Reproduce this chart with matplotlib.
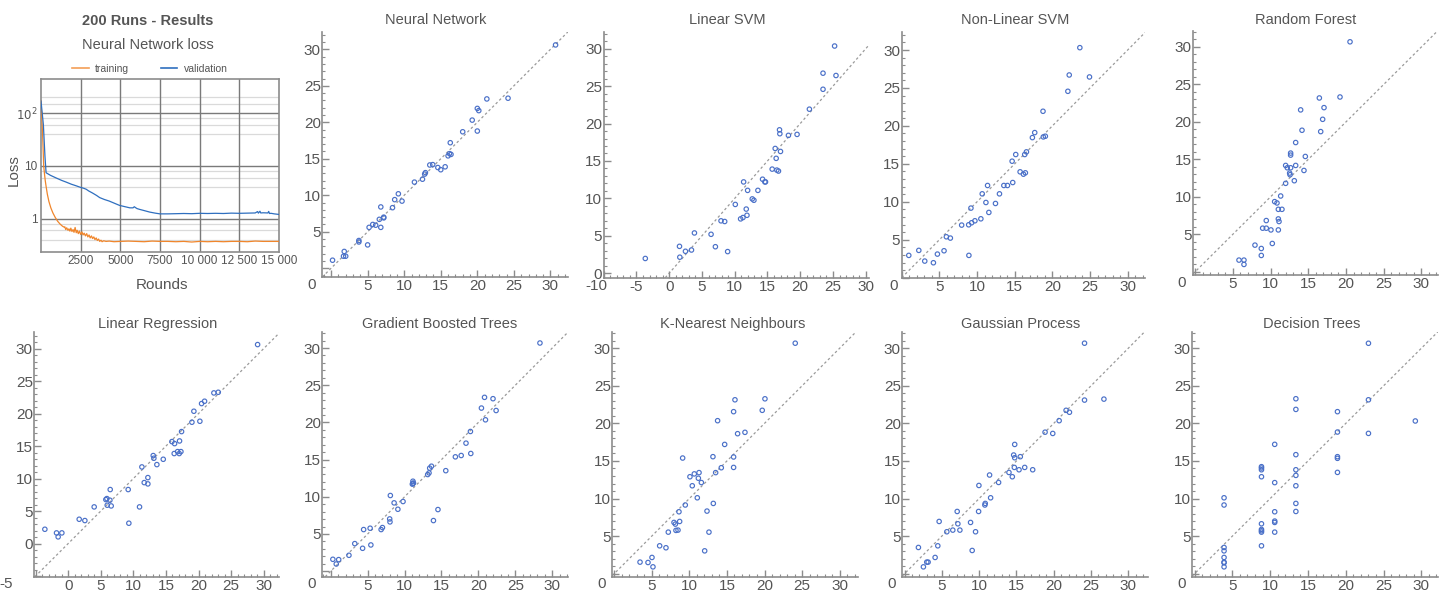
import matplotlib
matplotlib.use("Agg")
import matplotlib.pyplot as plt
import matplotlib.lines as mlines
from matplotlib.ticker import MultipleLocator, NullLocator

plt.rcParams['font.family'] = ['Liberation Sans', 'DejaVu Sans']

#%% Data
loss_rounds_train = [0, 100, 170, 220, 270, 320, 400, 500, 620, 750, 900, 1050, 1200, 1350, 1450, 1500,
                     1560, 1620, 1700, 1760, 1820, 1880, 1950, 2020, 2080, 2150, 2220, 2280, 2350, 2420,
                     2500, 2580, 2650, 2720, 2800, 2880, 2950, 3030, 3100, 3180, 3250, 3330, 3400, 3480,
                     3550, 3630, 3700, 3780, 3850, 3950, 4100, 4300, 4600, 5000, 5500, 6000, 6500, 7000,
                     7500, 8000, 8500, 9000, 9500, 10000, 10500, 11000, 11500, 12000, 12500, 13000,
                     13500, 14000, 14500, 15000]
loss_train = [169, 40, 10, 7.0, 5.2, 4.1, 2.9, 2.1, 1.6, 1.28, 1.05, 0.89, 0.79, 0.72, 0.69, 0.7,
              0.62, 0.67, 0.6, 0.64, 0.58, 0.66, 0.57, 0.62, 0.55, 0.68, 0.54, 0.6, 0.52, 0.58,
              0.5, 0.56, 0.49, 0.53, 0.47, 0.52, 0.45, 0.49, 0.43, 0.47, 0.42, 0.45, 0.4, 0.43,
              0.385, 0.41, 0.37, 0.39, 0.365, 0.38, 0.37, 0.375, 0.365, 0.37, 0.375, 0.37, 0.365, 0.375,
              0.37, 0.37, 0.365, 0.37, 0.36, 0.37, 0.365, 0.37, 0.365, 0.37, 0.37, 0.365,
              0.375, 0.37, 0.37, 0.37]
loss_rounds_val = [0, 150, 250, 320, 600, 950, 1300, 1600, 1900, 2200, 2500, 2700, 2850, 3000, 3250,
                   3500, 3700, 4000, 4300, 4600, 4950, 5300, 5600, 5800, 5880, 5950, 6050, 6200, 6500,
                   6850, 7200, 7500, 8000, 8500, 9000, 9500, 10000, 10500, 11000, 11500, 12000, 12500,
                   13000, 13500, 13650, 13700, 13800, 13850, 14000, 14300, 14350, 14400, 14500, 14700, 15000]
loss_val = [169, 60, 15, 7.4, 6.6, 5.9, 5.3, 4.9, 4.5, 4.2, 3.9, 3.75, 3.6, 3.35, 3.05,
            2.75, 2.5, 2.3, 2.15, 1.97, 1.78, 1.68, 1.6, 1.6, 1.68, 1.62, 1.55, 1.5, 1.42,
            1.33, 1.27, 1.23, 1.23, 1.24, 1.25, 1.24, 1.26, 1.25, 1.26, 1.25, 1.27, 1.26,
            1.27, 1.28, 1.36, 1.27, 1.38, 1.28, 1.29, 1.28, 1.37, 1.25, 1.26, 1.23, 1.2]

nn_pred = [0.2, 1.7, 1.8, 2.0, 3.8, 3.8, 5.0, 5.2, 5.7, 6.1, 6.6, 6.8, 6.8, 7.2, 7.2, 8.4, 8.7, 9.2, 9.7, 11.4,
           12.5, 12.8, 12.9, 13.5, 13.9, 14.6, 15.0, 15.6, 16.0, 16.2, 16.3, 16.4, 18.0, 19.3, 20.0, 20.0,
           20.2, 21.3, 24.2, 30.7]
nn_true = [1.1, 1.65, 2.3, 1.65, 3.8, 3.6, 3.2, 5.6, 6.0, 5.9, 6.7, 8.4, 5.6, 7.0, 6.9, 8.3, 9.4, 10.2, 9.2, 11.8,
           12.2, 12.9, 13.1, 14.15, 14.2, 13.8, 13.5, 13.9, 15.4, 15.7, 17.2, 15.6, 18.7, 20.3, 21.9, 18.8,
           21.6, 23.2, 23.3, 30.6]

lsvm_pred = [-3.65, 1.57, 1.62, 2.48, 3.4, 3.85, 6.39, 7.05, 7.91, 8.47, 8.92, 10.09, 10.9, 11.26, 11.36,
             11.76, 11.87, 11.97, 12.68, 12.93, 13.54, 14.25, 14.6, 14.7, 15.72, 16.18, 16.33, 16.43, 16.68,
             16.84, 16.89, 16.99, 18.2, 19.52, 21.4, 23.48, 23.48, 25.25, 25.46]
lsvm_true = [1.97, 3.59, 2.14, 2.93, 3.1, 5.38, 5.2, 3.54, 7.0, 6.91, 2.89, 9.19, 7.26, 7.44, 12.2,
             8.57, 7.74, 11.07, 9.93, 9.75, 11.07, 12.56, 12.2, 12.2, 13.91, 16.67, 15.35, 13.78, 13.65,
             19.16, 18.64, 16.27, 18.42, 18.55, 21.92, 26.73, 24.58, 30.36, 26.42]

nlsvm_pred = [0.94, 2.27, 3.06, 4.21, 4.74, 5.62, 5.93, 6.46, 7.96, 8.89, 8.92, 9.28, 9.19, 9.72, 10.51,
              10.69, 11.18, 11.4, 11.57, 12.45, 12.98, 13.56, 14.04, 14.66, 14.74, 15.14, 15.72, 16.16,
              16.33, 16.42, 16.56, 17.35, 17.66, 18.76, 18.8, 19.07, 22.06, 22.24, 23.65, 24.93]
nlsvm_true = [2.94, 3.6, 2.19, 1.97, 3.11, 3.55, 5.39, 5.22, 6.93, 6.97, 2.94, 7.24, 9.17, 7.5, 7.76,
              11.05, 9.91, 12.15, 8.6, 9.78, 11.05, 12.15, 12.15, 15.35, 12.54, 16.23, 13.95, 13.64,
              16.23, 13.82, 16.58, 18.46, 19.12, 21.93, 18.55, 18.64, 24.56, 26.71, 30.31, 26.45]

rf_pred = [5.8, 6.46, 6.46, 7.92, 8.76, 8.76, 8.94, 9.42, 9.42, 10.04, 10.22, 10.53, 10.84, 11.02, 11.02,
           11.11, 11.02, 11.33, 11.5, 11.99, 11.99, 12.21, 12.52, 12.57, 12.65, 12.65, 12.65, 13.14, 13.32,
           13.32, 13.98, 14.16, 14.42, 14.6, 16.46, 16.64, 16.9, 17.08, 19.2, 20.53]
rf_true = [1.54, 1.54, 0.96, 3.54, 3.09, 2.16, 5.8, 5.8, 6.82, 5.57, 3.76, 9.35, 9.17, 8.32, 7.04,
           6.69, 5.57, 10.1, 8.32, 14.18, 11.79, 13.87, 13.16, 12.94, 13.87, 15.83, 15.56, 12.14, 14.18,
           17.24, 21.6, 18.88, 13.51, 15.38, 23.19, 18.7, 20.34, 21.9, 23.32, 30.69]

lr_pred = [-3.58, -1.79, -1.54, -0.97, 1.69, 2.56, 3.99, 5.78, 5.94, 5.99, 6.4, 6.45, 6.6, 9.21, 9.31,
           10.95, 11.31, 11.67, 12.23, 12.23, 13.05, 13.15, 13.61, 14.59, 15.92, 16.27, 16.33, 16.79,
           17.04, 17.09, 17.3, 17.4, 18.99, 19.29, 20.21, 20.47, 20.93, 22.36, 23.03, 29.07]
lr_true = [2.2, 1.64, 1.03, 1.64, 3.74, 3.54, 5.64, 6.77, 6.92, 5.9, 6.67, 8.31, 5.79, 8.31, 3.13,
           5.64, 11.79, 9.38, 10.15, 9.18, 13.54, 13.13, 12.15, 12.97, 15.69, 13.85, 15.38, 14.15,
           13.85, 15.79, 14.15, 17.23, 18.67, 20.36, 18.82, 21.54, 21.9, 23.18, 23.28, 30.62]

gbt_pred = [0.28, 0.74, 1.07, 2.46, 3.25, 4.31, 4.45, 5.33, 5.43, 6.82, 7.0, 7.98, 8.02, 8.07, 8.58,
            9.09, 9.79, 11.13, 11.13, 11.05, 11.2, 13.13, 13.31, 13.4, 13.64, 13.91, 14.52, 15.58, 16.88,
            17.67, 18.32, 18.92, 18.97, 20.41, 20.83, 20.96, 21.98, 22.4, 28.34]
gbt_true = [1.59, 0.96, 1.55, 2.13, 3.7, 3.07, 5.59, 5.77, 3.52, 5.59, 5.86, 7.02, 6.62, 10.17, 9.18,
            8.32, 9.36, 12.09, 11.78, 11.7, 11.85, 12.99, 13.21, 13.85, 14.11, 6.8, 8.28, 13.51, 15.37,
            15.55, 17.21, 18.78, 15.82, 21.93, 23.37, 20.35, 23.19, 21.6, 30.68]

knn_pred = [3.44, 4.5, 5.03, 5.16, 6.05, 6.89, 7.2, 7.96, 8.14, 8.22, 8.49, 8.62, 8.71, 9.11, 9.46,
            10.08, 10.39, 10.66, 11.06, 11.2, 11.29, 11.6, 12.04, 12.35, 12.61, 13.19, 13.14, 13.5,
            13.76, 14.25, 14.7, 15.89, 15.89, 15.89, 16.07, 16.42, 17.4, 19.7, 20.06, 24.09]
knn_true = [1.54, 1.49, 2.16, 0.91, 3.71, 3.45, 5.53, 6.82, 6.6, 5.76, 5.8, 8.24, 6.95, 15.39, 9.14,
            12.9, 11.7, 13.28, 10.1, 12.7, 13.45, 12.13, 3.04, 8.33, 5.53, 9.35, 15.57, 13.45,
            20.36, 14.1, 17.2, 21.56, 14.14, 15.53, 23.14, 18.63, 18.81, 21.74, 23.27, 30.67]

gp_pred = [1.86, 2.53, 2.98, 3.16, 4.1, 4.46, 4.64, 5.67, 6.47, 7.06, 7.15, 7.42, 8.85, 9.07, 9.52,
           9.93, 9.97, 10.77, 10.82, 11.4, 11.54, 12.61, 14.0, 14.45, 14.63, 14.72, 14.77, 14.77, 15.35,
           15.52, 16.11, 17.18, 18.84, 19.87, 20.73, 21.66, 22.11, 24.13, 24.13, 26.73]
gp_true = [3.49, 0.91, 1.54, 1.54, 2.16, 3.71, 6.95, 5.58, 5.8, 8.28, 6.64, 5.8, 6.82, 3.09, 5.58,
           8.28, 11.74, 9.14, 9.35, 13.13, 10.1, 12.14, 13.47, 12.9, 15.79, 14.14, 15.43, 17.2, 13.83,
           15.57, 14.14, 13.83, 18.83, 18.66, 20.36, 21.74, 21.48, 23.1, 30.67, 23.23]

dt_pred = [3.9, 3.9, 3.9, 3.9, 3.9, 3.9, 3.9, 3.9, 8.85, 8.85, 8.85, 8.85, 8.85, 8.85, 8.85, 8.85, 8.85,
           10.6, 10.6, 10.6, 10.6, 10.6, 10.6, 13.4, 13.4, 13.4, 13.4, 13.4, 13.4, 13.4, 13.4,
           18.9, 18.9, 18.9, 18.9, 18.9, 23.0, 23.0, 23.0, 29.2]
dt_true = [10.1, 9.14, 3.49, 3.04, 2.16, 1.54, 1.45, 0.91, 14.24, 14.06, 13.83, 12.9, 6.64, 5.89, 5.71,
           5.53, 3.71, 17.21, 12.12, 8.24, 7.0, 6.82, 5.53, 23.28, 21.86, 15.84, 13.83, 13.08, 11.7,
           9.35, 8.28, 21.56, 18.85, 15.57, 15.35, 13.48, 30.66, 23.14, 18.67, 20.32]

#%% Style
W, H = 1445, 593
TEXT = '#555555'
AXIS = '#8c8c8c'
DOT = '#4a70c8'
ORANGE = '#f0862c'
BLUE = '#2f6fbf'
PT = 0.72  # points per pixel at dpi 100


def px_axes(fig, left, right, top, bottom):
    # axes rectangle from pixel coordinates of the reference
    return fig.add_axes([left / W, 1 - bottom / H, (right - left) / W, (bottom - top) / H])


def fig_text(fig, x, y, s, **kw):
    fig.text(x / W, 1 - y / H, s, ha='center', va='center', color=TEXT, **kw)


def scatter_panel(fig, rect, pred, true, xlim, ylim, xticks, yticks, corner, corner_dx, corner_dy):
    ax = px_axes(fig, *rect)
    ax.axline((0, 0), slope=1, color='#9a9a9a', lw=0.9, linestyle=(0, (2, 2)), zorder=1)
    ax.scatter(pred, true, s=10, facecolors='none', edgecolors=DOT, linewidths=0.85, zorder=3)
    ax.set_xlim(xlim)
    ax.set_ylim(ylim)
    for s in ['top', 'right']:
        ax.spines[s].set_visible(False)
    for s in ['left', 'bottom']:
        ax.spines[s].set_color(AXIS)
        ax.spines[s].set_linewidth(1.2)
    ax.set_xticks(xticks[0], xticks[1])
    ax.set_yticks(yticks[0], yticks[1])
    ax.xaxis.set_minor_locator(MultipleLocator(1))
    ax.yaxis.set_minor_locator(MultipleLocator(1))
    ax.tick_params(which='both', direction='in', color=AXIS, labelcolor=TEXT, labelsize=11)
    ax.tick_params(which='major', length=5, width=1)
    ax.tick_params(which='minor', length=2.5, width=0.8)
    ax.tick_params(axis='x', pad=1.5)
    ax.tick_params(axis='y', pad=1)
    # origin label sits at the corner, left of the y axis
    ax.annotate(corner, xy=(0, 0), xycoords='axes fraction', xytext=(corner_dx * PT, -corner_dy * PT),
                textcoords='offset points', ha='center', va='center', fontsize=11, color=TEXT)
    return ax


fig = plt.figure(figsize=(W / 100, H / 100), dpi=100)

#%% Loss panel
ax = px_axes(fig, 41, 279, 79, 252)
ax.plot(loss_rounds_train, loss_train, color=ORANGE, lw=0.9, zorder=3)
ax.plot(loss_rounds_val, loss_val, color=BLUE, lw=0.9, zorder=4)
ax.set_yscale('log')
ax.set_xlim(0, 15000)
ax.set_ylim(0.233, 442)
ax.set_xticks([2500, 5000, 7500, 10000, 12500, 15000],
              ['2500', '5000', '7500', '10 000', '12 500', '15 000'])
ax.set_yticks([1, 10, 100], ['1', '10', '$10^2$'])
ax.yaxis.set_minor_locator(NullLocator())
for v in [0.4, 0.6, 0.8, 4, 6, 8, 40, 60, 80, 150, 200]:
    ax.axhline(v, color='#dadada', lw=0.9, zorder=1)
for v in [1, 10, 100]:
    ax.axhline(v, color='#7a7a7a', lw=1.0, zorder=2)
for v in [2500, 5000, 7500, 10000, 12500]:
    ax.axvline(v, color='#7a7a7a', lw=1.0, zorder=2)
for s in ax.spines.values():
    s.set_color(AXIS)
    s.set_linewidth(1.2)
ax.tick_params(which='both', length=0, labelcolor=TEXT, labelsize=8.5, pad=2.5)

leg_handles = [mlines.Line2D([], [], color=ORANGE, lw=1.2, alpha=0.8),
               mlines.Line2D([], [], color=BLUE, lw=1.2)]
fig.legend(leg_handles, ['training', 'validation'], loc='center', bbox_to_anchor=(150 / W, 1 - 69 / H),
           ncol=2, frameon=False, fontsize=7.5, labelcolor=TEXT, handlelength=1.6, handletextpad=0.6,
           columnspacing=3.0)

fig_text(fig, 148, 21, '200 Runs - Results', fontsize=10.5, fontweight='bold')
fig_text(fig, 148, 45, 'Neural Network loss', fontsize=10.5)
fig_text(fig, 14, 170, 'Loss', fontsize=11, rotation=90)
fig_text(fig, 162, 285, 'Rounds', fontsize=11)

#%% Scatter panels
std_ticks = ([0, 5, 10, 15, 20, 25, 30], ['', '5', '10', '15', '20', '25', '30'])
lsvm_xticks = ([-10, -5, 0, 5, 10, 15, 20, 25, 30], ['', '-5', '0', '5', '10', '15', '20', '25', '30'])
zero_ticks = ([0, 5, 10, 15, 20, 25, 30], ['0', '5', '10', '15', '20', '25', '30'])
lr_ticks = ([-5, 0, 5, 10, 15, 20, 25, 30], ['', '0', '5', '10', '15', '20', '25', '30'])

scatter_panel(fig, (322.3, 568, 31.8, 277), nn_pred, nn_true, (-1.2, 32.4), (-1.2, 32.4),
              std_ticks, std_ticks, '0', -10.6, 8.3)
scatter_panel(fig, (603.7, 869, 31.5, 277.7), lsvm_pred, lsvm_true, (-10, 30.5), (-0.6, 32.3),
              lsvm_xticks, zero_ticks, '-10', -7.7, 8.3)
scatter_panel(fig, (901.7, 1145, 31.8, 277.7), nlsvm_pred, nlsvm_true, (0.1, 32.3), (0, 32.4),
              std_ticks, std_ticks, '0', -8.3, 8.3)
scatter_panel(fig, (1193, 1438, 30.5, 275), rf_pred, rf_true, (-0.3, 32.2), (-0.45, 32.2),
              std_ticks, std_ticks, '0', -11.7, 8.3)
scatter_panel(fig, (34.3, 279.3, 331.7, 576.7), lr_pred, lr_true, (-5.2, 32.4), (-5.1, 32.6),
              lr_ticks, lr_ticks, '-5', -28, 7.3)
scatter_panel(fig, (322.3, 567.7, 331.7, 576.7), gbt_pred, gbt_true, (-1.15, 32.1), (-0.75, 32.2),
              std_ticks, std_ticks, '0', -10.7, 7.3)
scatter_panel(fig, (612.3, 857.7, 331.7, 576.7), knn_pred, knn_true, (-0.25, 32.4), (-0.4, 32.2),
              std_ticks, std_ticks, '0', -10.7, 7.3)
scatter_panel(fig, (902.3, 1147.7, 331.7, 576.7), gp_pred, gp_true, (-0.3, 32.6), (-0.4, 32.2),
              std_ticks, std_ticks, '0', -10.7, 7.3)
scatter_panel(fig, (1192.3, 1438, 331.7, 576.7), dt_pred, dt_true, (-0.3, 32.2), (-0.4, 32.2),
              std_ticks, std_ticks, '0', -10.7, 7.3)

for name, x, y in [('Neural Network', 436, 20), ('Linear SVM', 727, 20), ('Non-Linear SVM', 1015, 20),
                   ('Random Forest', 1306, 20), ('Linear Regression', 158, 324),
                   ('Gradient Boosted Trees', 440, 324), ('K-Nearest Neighbours', 733, 324),
                   ('Gaussian Process', 1021, 324), ('Decision Trees', 1312, 324)]:
    fig_text(fig, x, y, name, fontsize=10.5)

fig.savefig('out.png', dpi=100)
